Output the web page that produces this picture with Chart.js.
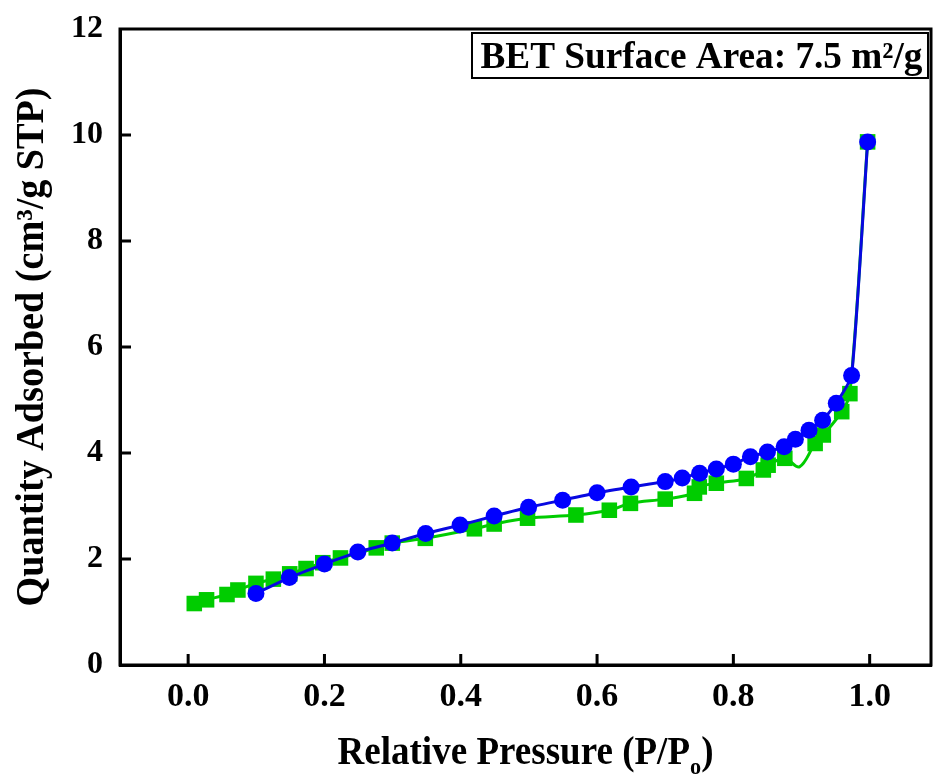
<!DOCTYPE html>
<html>
<head>
<meta charset="utf-8">
<script src="https://cdn.jsdelivr.net/npm/chart.js@4.4.1/dist/chart.umd.min.js"></script>
<style>
  html, body { margin: 0; padding: 0; background: #fff; }
  #wrap { width: 936px; height: 781px; }
</style>
</head>
<body>
<div id="wrap"><canvas id="c" width="936" height="781"></canvas></div>
<script>
// ---- Data ----
// Adsorption branch (green squares); 0.897 is an unmarked point on the curve's dip
const pressureAds = [0.009, 0.027, 0.057, 0.073, 0.0995, 0.125, 0.149, 0.173, 0.1975, 0.2235, 0.276, 0.2995, 0.348, 0.42, 0.449, 0.498, 0.569, 0.618, 0.649, 0.70, 0.743, 0.75, 0.775, 0.819, 0.844, 0.851, 0.8755, 0.897, 0.92, 0.932, 0.959, 0.971, 0.997];
const quantityAds = [1.16, 1.23, 1.33, 1.415, 1.54, 1.62, 1.72, 1.82, 1.93, 2.02, 2.21, 2.30, 2.39, 2.57, 2.66, 2.77, 2.83, 2.92, 3.05, 3.13, 3.24, 3.36, 3.43, 3.52, 3.68, 3.77, 3.90, 3.74, 4.18, 4.34, 4.78, 5.12, 9.87];
const markedAds = [1,1,1,1,1,1,1,1,1,1,1,1,1,1,1,1,1,1,1,1,1,1,1,1,1,1,1,0,1,1,1,1,1];
// Desorption branch (blue circles)
const pressureDes = [0.997, 0.9735, 0.951, 0.931, 0.911, 0.891, 0.8745, 0.85, 0.825, 0.80, 0.775, 0.7505, 0.725, 0.70, 0.65, 0.60, 0.5495, 0.4995, 0.449, 0.399, 0.3485, 0.2995, 0.249, 0.20, 0.1485, 0.0995];
const quantityDes = [9.87, 5.46, 4.94, 4.62, 4.43, 4.26, 4.12, 4.02, 3.93, 3.79, 3.70, 3.62, 3.53, 3.46, 3.36, 3.25, 3.11, 2.975, 2.81, 2.64, 2.48, 2.30, 2.13, 1.905, 1.65, 1.35];
// Tick values
const xTickValues = [0.0, 0.2, 0.4, 0.6, 0.8, 1.0];
const yTickValues = [0, 2, 4, 6, 8, 10, 12];
const xTitle = "Relative Pressure (P/P";
const xTitleSub = "o";
const yTitle = "Quantity Adsorbed (cm\u00B3/g STP)";
const noteText = "BET Surface Area: 7.5 m\u00B2/g";

const FONT = '"Liberation Serif", "Times New Roman", serif';

const adsPoints = pressureAds.map((p, i) => ({ x: p, y: quantityAds[i] }));
const desPoints = pressureDes.map((p, i) => ({ x: p, y: quantityDes[i] }));

function drawFitted(ctx, text, x, y, maxW, align) {
  const w = ctx.measureText(text).width;
  const s = Math.min(1, maxW / w);
  ctx.save();
  ctx.translate(x, y);
  ctx.scale(s, 1);
  ctx.textAlign = align || 'center';
  ctx.fillText(text, 0, 0);
  ctx.restore();
}

const framePlugin = {
  id: 'frame',
  afterDraw(chart) {
    const ctx = chart.ctx;
    const a = chart.chartArea;
    const xs = chart.scales.x, ys = chart.scales.y;
    ctx.save();
    ctx.strokeStyle = '#000';
    ctx.lineWidth = 3;
    // frame
    ctx.beginPath();
    ctx.moveTo(a.left, a.top);
    ctx.lineTo(a.right, a.top);
    ctx.lineTo(a.right, a.bottom);
    ctx.lineTo(a.left, a.bottom);
    ctx.closePath();
    ctx.stroke();
    // inward ticks
    ctx.beginPath();
    xTickValues.forEach(v => {
      const px = xs.getPixelForValue(v);
      ctx.moveTo(px, a.bottom);
      ctx.lineTo(px, a.bottom - 11);
    });
    yTickValues.forEach(v => {
      const py = ys.getPixelForValue(v);
      if (v === 0 || v === 12) return;
      ctx.moveTo(a.left, py);
      ctx.lineTo(a.left + 11, py);
    });
    ctx.stroke();

    // note box
    ctx.lineWidth = 2;
    ctx.strokeRect(472, a.top + 4, a.right - 472 - 3, 45);
    ctx.fillStyle = '#000';
    ctx.font = 'bold 38px ' + FONT;
    ctx.textBaseline = 'alphabetic';
    drawFitted(ctx, noteText, (472 + a.right) / 2, a.top + 39, 442, 'center');

    // y title
    ctx.save();
    ctx.translate(33, 347);
    ctx.rotate(-Math.PI / 2);
    ctx.font = 'bold 40px ' + FONT;
    ctx.textBaseline = 'middle';
    drawFitted(ctx, yTitle, 0, 0, 519, 'center');
    ctx.restore();

    // x title with subscript
    ctx.font = 'bold 40px ' + FONT;
    ctx.textBaseline = 'alphabetic';
    const wMain = ctx.measureText(xTitle).width;
    ctx.font = 'bold 24px ' + FONT;
    const wSub = ctx.measureText(xTitleSub).width;
    ctx.font = 'bold 40px ' + FONT;
    const wClose = ctx.measureText(')').width;
    const total = wMain + wSub + wClose;
    const targetW = 376;
    const s = Math.min(1, targetW / total);
    const cx = (a.left + a.right) / 2;
    ctx.save();
    ctx.translate(cx - total * s / 2, 764);
    ctx.scale(s, 1);
    ctx.textAlign = 'left';
    ctx.fillText(xTitle, 0, 0);
    ctx.font = 'bold 24px ' + FONT;
    ctx.fillText(xTitleSub, wMain, 10);
    ctx.font = 'bold 40px ' + FONT;
    ctx.fillText(')', wMain + wSub, 0);
    ctx.restore();

    ctx.restore();
  }
};

new Chart(document.getElementById('c'), {
  type: 'scatter',
  data: {
    datasets: [
      {
        label: 'Desorption',
        data: desPoints,
        showLine: true,
        borderColor: '#0808e0',
        backgroundColor: '#0000ff',
        borderWidth: 3,
        pointStyle: 'circle',
        pointRadius: 8.5,
        pointBorderWidth: 0,
        tension: 0.15
      },
      {
        label: 'Adsorption',
        data: adsPoints,
        showLine: true,
        borderColor: '#00cc00',
        backgroundColor: '#00cc00',
        borderWidth: 3,
        pointStyle: 'rect',
        pointRadius: markedAds.map(m => m ? 11 : 0),
        pointBorderWidth: 0,
        tension: 0.35
      }
    ]
  },
  options: {
    responsive: false,
    animation: false,
    devicePixelRatio: 1,
    layout: { autoPadding: false, padding: { top: 29, right: 5, left: 0, bottom: 0 } },
    plugins: { legend: { display: false }, tooltip: { enabled: false } },
    scales: {
      x: {
        type: 'linear',
        min: -0.1,
        max: 1.09,
        afterBuildTicks(scale) { scale.ticks = xTickValues.map(v => ({ value: v })); },
        afterFit(scale) {
          scale.height = 116;
          scale.paddingLeft = 0; scale.paddingRight = 0;
          scale.paddingTop = 0; scale.paddingBottom = 0;
        },
        grid: { display: false, drawTicks: false },
        border: { display: true, color: '#000', width: 3 },
        ticks: {
          padding: 12,
          color: '#000',
          font: { family: FONT, size: 34, weight: 'bold' },
          callback: v => Number(v).toFixed(1),
          maxRotation: 0
        }
      },
      y: {
        type: 'linear',
        min: 0,
        max: 12,
        afterBuildTicks(scale) { scale.ticks = yTickValues.map(v => ({ value: v })); },
        afterFit(scale) {
          scale.width = 120;
          scale.paddingLeft = 0; scale.paddingRight = 0;
          scale.paddingTop = 0; scale.paddingBottom = 0;
        },
        grid: { display: false, drawTicks: false },
        border: { display: true, color: '#000', width: 3 },
        ticks: {
          padding: 17,
          color: '#000',
          font: { family: FONT, size: 32, weight: 'bold' },
          callback: v => String(v)
        }
      }
    }
  },
  plugins: [framePlugin]
});
</script>
</body>
</html>
